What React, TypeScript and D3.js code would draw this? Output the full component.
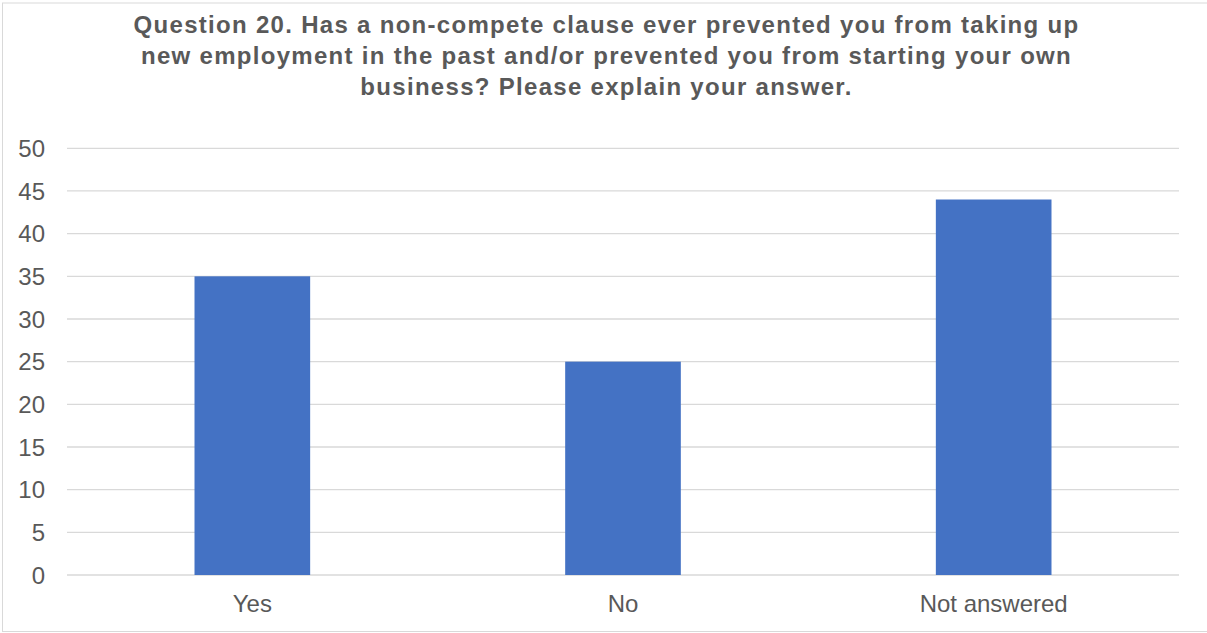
import React from "react";
import * as d3 from "d3";

const categories = ["Yes", "No", "Not answered"];
const values = [35, 25, 44];
const yTicks = [0, 5, 10, 15, 20, 25, 30, 35, 40, 45, 50];
const titleLines = [
  "Question 20. Has a non-compete clause ever prevented you from taking up",
  "new employment in the past and/or prevented you from starting your own",
  "business? Please explain your answer.",
];

const W = 1207;
const H = 633;
const plot = { left: 67, right: 1179, top: 148.3, bottom: 575 };

export default function App() {
  const x = d3
    .scaleBand<string>()
    .domain(categories)
    .range([plot.left, plot.right])
    .paddingInner(0.688)
    .paddingOuter(0.344);
  const y = d3.scaleLinear().domain([0, 50]).range([plot.bottom, plot.top]);
  const font = "Arial, 'Liberation Sans', sans-serif";
  const gray = "#595959";

  return (
    <svg
      width={W}
      height={H}
      style={{ position: "absolute", left: 0, top: 0 }}
      fontFamily={font}
    >
      <rect x={0} y={0} width={W} height={H} fill="#fff" />
      <rect
        x={2.5}
        y={3}
        width={1215}
        height={628.5}
        fill="none"
        stroke="#d9d9d9"
        strokeWidth={1}
      />
      {titleLines.map((t, i) => (
        <text
          key={i}
          x={606.5}
          y={32.5 + i * 31}
          textAnchor="middle"
          fontSize={24}
          fontWeight="bold"
          letterSpacing={1.3}
          fill={gray}
        >
          {t}
        </text>
      ))}
      {yTicks.map((t) => (
        <g key={t}>
          <line
            x1={plot.left}
            x2={plot.right}
            y1={y(t)}
            y2={y(t)}
            stroke="#d9d9d9"
            strokeWidth={1.3}
          />
          <text
            x={45}
            y={y(t) + 8.6}
            textAnchor="end"
            fontSize={24}
            fill={gray}
          >
            {t}
          </text>
        </g>
      ))}
      {categories.map((c, i) => (
        <rect
          key={c}
          x={x(c)}
          y={y(values[i])}
          width={x.bandwidth()}
          height={y(0) - y(values[i])}
          fill="#4472C4"
        />
      ))}
      {categories.map((c) => (
        <text
          key={c}
          x={(x(c) as number) + x.bandwidth() / 2}
          y={612.3}
          textAnchor="middle"
          fontSize={24}
          fill={gray}
        >
          {c}
        </text>
      ))}
    </svg>
  );
}
